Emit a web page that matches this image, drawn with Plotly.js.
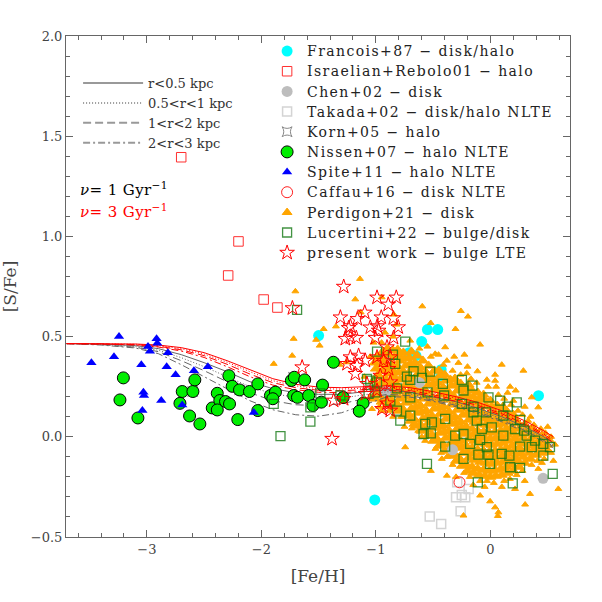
<!DOCTYPE html>
<html>
<head>
<meta charset="utf-8">
<script src="https://cdn.plot.ly/plotly-3.0.1.min.js"></script>
<style>
  html, body { margin: 0; padding: 0; background: #fff; }
  #myDiv { width: 602px; height: 602px; }
  .legendtext { font-size: 14px !important; letter-spacing: 1.4px; }
  .legendtext[data-unformatted*="kpc"] { font-size: 13px !important; letter-spacing: 0; }
  .annotation-text { letter-spacing: 0.4px; }
</style>
</head>
<body>
<div id="myDiv"></div>
<script>
// [Fe/H], [S/Fe] pairs
var francois = [[-1.50,0.505],[-0.55,0.535],[-0.46,0.535],[-0.60,0.475],[-0.71,0.42],[-0.65,0.405],
  [-0.43,0.335],[-0.43,0.305],[0.42,0.205],[-1.01,-0.315]];
var israelian = [[-2.70,1.395],[-2.20,0.975],[-2.29,0.805],[-1.98,0.685],[-1.86,0.645]];
var chen = [[-0.91,0.227],[-0.33,-0.065],[0.46,-0.207],[-0.62,0.27]];
var takada = [[-0.53,-0.398],[-0.43,-0.435],[-0.30,-0.302],[-0.22,-0.302],[-0.26,-0.372],
  [-0.29,-0.227],[-0.19,-0.26],[-0.25,-0.29]];
var korn = [[-2.19,0.234],[-1.72,0.297],[-2.60,0.226]];
var nissen = [[-3.205,0.294],[-3.235,0.184],[-3.078,0.094],[-2.691,0.226],[-2.598,0.226],[-2.581,0.284],
  [-2.711,0.167],[-2.627,0.104],[-2.537,0.064],[-2.429,0.144],[-2.385,0.217],[-2.363,0.181],[-2.313,0.176],
  [-2.278,0.164],[-2.385,0.134],[-2.284,0.305],[-2.255,0.252],[-2.191,0.234],[-2.104,0.226],[-2.031,0.264],
  [-2.206,0.086],[-2.031,0.131],[-1.921,0.206],[-1.877,0.223],[-1.90,0.19],[-1.738,0.281],[-1.712,0.297],
  [-1.622,0.284],[-1.718,0.206],[-1.685,0.197],[-1.587,0.206],[-1.550,0.156],[-1.476,0.173],[-1.466,0.258],
  [-1.371,0.372],[-1.286,0.196],[-1.112,0.168],[-1.145,0.128]];
var spite = [[-3.243,0.500],[-2.915,0.489],[-2.909,0.467],[-2.990,0.450],[-2.973,0.427],[-2.816,0.419],
  [-3.484,0.369],[-3.287,0.400],[-3.048,0.360],[-2.827,0.350],[-2.749,0.310],[-2.589,0.330],[-2.467,0.350],
  [-3.030,0.222],[-3.025,0.206],[-2.874,0.181],[-2.691,0.159],[-3.039,0.131],[-2.066,0.121]];
var caffau = [[-0.27,-0.227]];
var perdigonField = [[-1.139,0.788],[-1.703,0.726],[-1.180,0.686],[-0.595,0.651],[-0.258,0.628],[-0.196,0.600],
  [-1.349,0.551],[-0.521,0.568],[-0.305,0.538],[-0.949,0.696],[-1.133,0.621],[-0.843,0.610],[-1.718,0.489],
  [-1.731,0.405],[-1.456,0.538],[-1.491,0.455],[-1.316,0.360],[-1.258,0.372],[-1.892,0.364],[-0.482,0.414],
  [-0.395,0.447],[-1.522,0.484],[-1.034,0.139],[-0.090,0.460],[0.288,0.330],[0.099,0.360],[-0.113,0.327],
  [0.041,0.310],[-0.206,0.317],[-0.279,0.369],[-0.316,0.400],[-0.227,0.410],[-0.453,0.410],[-0.380,0.380],
  [-0.031,0.285],[0.041,0.280],[0.172,0.250],[0.221,0.231],[0.361,0.197],[0.418,0.147],[-0.744,-0.052],
  [-0.685,0.042],[-0.424,-0.110],[-0.380,-0.194],[-0.090,-0.293],[-0.003,-0.322],[0.041,-0.352],[0.070,-0.377],
  [0.065,-0.395],[-0.235,-0.393],[0.303,-0.338],[0.346,-0.285],[0.593,-0.260],[0.215,-0.260],[0.418,-0.160],
  [0.564,-0.039],[-0.52,-0.17],[0.15,0.22],[0.30,0.15],[0.35,0.10],[0.50,0.05],[0.45,-0.13],[0.55,-0.12],
  [0.30,-0.22],[0.10,-0.25],[-0.05,-0.25],[-0.15,-0.24],[-0.30,-0.20],[-0.60,0.0],[-0.75,0.05],
  [-0.85,0.10],[-0.95,0.13],[-1.05,0.20],[-1.10,0.30],[-1.05,0.40],[-0.95,0.47],[-0.85,0.50],[-0.70,0.48],
  [-0.55,0.45],[-0.20,0.35],[0.05,0.25],[0.20,0.18],[-0.92,0.52],[-0.82,0.56],[-1.02,0.47],
  [-0.62,0.44],[-0.52,0.40],[-0.41,0.36],[-0.33,0.33],[-0.26,0.31],[-0.17,0.29],[-0.12,0.27],[-0.02,0.25],
  [0.07,0.21],[0.12,0.19],[0.18,0.16],[0.24,0.13],[0.28,0.11],[0.33,0.08],[0.38,0.06],[0.44,0.04],[0.48,0.02],
  [0.53,0.0],[0.53,-0.08],[0.47,-0.11],[0.41,-0.12],[0.36,-0.14],[0.28,-0.17],[0.23,-0.19],[0.17,-0.21],
  [0.12,-0.22],[0.03,-0.23],[-0.03,-0.22],[-0.09,-0.22],[-0.18,-0.20],[-0.23,-0.18],[-0.33,-0.14],
  [-0.38,-0.10],[-0.43,-0.08],[-0.48,-0.06],[-0.57,-0.02],[-0.63,0.03],[-0.68,0.06],[-0.78,0.10],
  [-0.88,0.13],[-0.97,0.15]];
var perdigonCore = [
  [-1.01,.19],[-0.99,.22],[-1.00,.25],[-1.02,.28],[-0.98,.31],[-1.00,.34],[-1.01,.37],[-0.99,.40],
  [-0.95,.175],[-0.96,.205],[-0.94,.235],[-0.95,.27],[-0.97,.30],[-0.94,.33],[-0.95,.36],[-0.96,.39],[-0.94,.425],
  [-0.90,.16],[-0.91,.19],[-0.89,.22],[-0.90,.25],[-0.91,.285],[-0.89,.315],[-0.90,.345],[-0.92,.375],[-0.89,.41],[-0.90,.44],
  [-0.85,.145],[-0.86,.18],[-0.84,.21],[-0.85,.24],[-0.86,.27],[-0.84,.30],[-0.85,.33],[-0.86,.36],[-0.84,.395],[-0.85,.43],
  [-0.80,.13],[-0.81,.16],[-0.79,.19],[-0.80,.225],[-0.81,.255],[-0.79,.285],[-0.80,.32],[-0.81,.35],[-0.79,.38],[-0.80,.41],[-0.81,.435],
  [-0.75,.105],[-0.76,.135],[-0.74,.17],[-0.75,.20],[-0.76,.23],[-0.74,.26],[-0.75,.295],[-0.76,.325],[-0.74,.355],[-0.75,.39],[-0.76,.42],
  [-0.70,.08],[-0.71,.11],[-0.69,.14],[-0.70,.175],[-0.71,.205],[-0.69,.24],[-0.70,.27],[-0.71,.30],[-0.69,.335],[-0.70,.365],[-0.71,.395],[-0.69,.425],
  [-0.65,.055],[-0.66,.085],[-0.64,.12],[-0.65,.15],[-0.66,.18],[-0.64,.215],[-0.65,.245],[-0.66,.275],[-0.64,.31],[-0.65,.34],[-0.66,.37],[-0.64,.405],
  [-0.60,.03],[-0.61,.06],[-0.59,.09],[-0.60,.125],[-0.61,.155],[-0.59,.19],[-0.60,.22],[-0.61,.25],[-0.59,.285],[-0.60,.315],[-0.61,.345],[-0.59,.38],
  [-0.55,.005],[-0.56,.035],[-0.54,.07],[-0.55,.10],[-0.56,.13],[-0.54,.165],[-0.55,.195],[-0.56,.225],[-0.54,.26],[-0.55,.29],[-0.56,.32],[-0.54,.355],
  [-0.50,-.02],[-0.51,.01],[-0.49,.045],[-0.50,.075],[-0.51,.105],[-0.49,.14],[-0.50,.17],[-0.51,.20],[-0.49,.235],[-0.50,.265],[-0.51,.295],[-0.49,.33],
  [-0.45,-.045],[-0.46,-.015],[-0.44,.02],[-0.45,.05],[-0.46,.08],[-0.44,.115],[-0.45,.145],[-0.46,.175],[-0.44,.21],[-0.45,.24],[-0.46,.27],[-0.44,.305],[-0.45,.33],
  [-0.40,-.07],[-0.41,-.04],[-0.39,-.005],[-0.40,.025],[-0.41,.055],[-0.39,.09],[-0.40,.12],[-0.41,.15],[-0.39,.185],[-0.40,.215],[-0.41,.245],[-0.39,.28],[-0.40,.31],
  [-0.35,-.095],[-0.36,-.065],[-0.34,-.03],[-0.35,0],[-0.36,.03],[-0.34,.065],[-0.35,.095],[-0.36,.125],[-0.34,.16],[-0.35,.19],[-0.36,.22],[-0.34,.255],[-0.35,.285],
  [-0.30,-.12],[-0.31,-.09],[-0.29,-.055],[-0.30,-.025],[-0.31,.005],[-0.29,.04],[-0.30,.07],[-0.31,.10],[-0.29,.135],[-0.30,.165],[-0.31,.195],[-0.29,.23],[-0.30,.26],[-0.31,.29],
  [-0.25,-.145],[-0.26,-.115],[-0.24,-.08],[-0.25,-.05],[-0.26,-.02],[-0.24,.015],[-0.25,.045],[-0.26,.075],[-0.24,.11],[-0.25,.14],[-0.26,.17],[-0.24,.205],[-0.25,.235],[-0.26,.265],
  [-0.20,-.17],[-0.21,-.14],[-0.19,-.105],[-0.20,-.075],[-0.21,-.045],[-0.19,-.01],[-0.20,.02],[-0.21,.05],[-0.19,.085],[-0.20,.115],[-0.21,.145],[-0.19,.18],[-0.20,.21],[-0.21,.24],[-0.19,.26],
  [-0.15,-.18],[-0.16,-.15],[-0.14,-.115],[-0.15,-.085],[-0.16,-.055],[-0.14,-.02],[-0.15,.01],[-0.16,.04],[-0.14,.075],[-0.15,.105],[-0.16,.135],[-0.14,.17],[-0.15,.20],[-0.16,.23],
  [-0.10,-.19],[-0.11,-.16],[-0.09,-.125],[-0.10,-.095],[-0.11,-.065],[-0.09,-.03],[-0.10,0],[-0.11,.03],[-0.09,.065],[-0.10,.095],[-0.11,.125],[-0.09,.16],[-0.10,.19],[-0.11,.22],
  [-0.05,-.195],[-0.06,-.165],[-0.04,-.13],[-0.05,-.10],[-0.06,-.07],[-0.04,-.035],[-0.05,-.005],[-0.06,.025],[-0.04,.06],[-0.05,.09],[-0.06,.12],[-0.04,.155],[-0.05,.185],[-0.06,.21],
  [0.00,-.20],[-0.01,-.17],[0.01,-.135],[0.00,-.105],[-0.01,-.075],[0.01,-.04],[0.00,-.01],[-0.01,.02],[0.01,.055],[0.00,.085],[-0.01,.115],[0.01,.15],[0.00,.18],
  [0.05,-.195],[0.04,-.165],[0.06,-.13],[0.05,-.10],[0.04,-.07],[0.06,-.035],[0.05,-.005],[0.04,.025],[0.06,.06],[0.05,.09],[0.04,.12],[0.06,.155],
  [0.10,-.19],[0.09,-.16],[0.11,-.125],[0.10,-.095],[0.09,-.065],[0.11,-.03],[0.10,0],[0.09,.03],[0.11,.065],[0.10,.095],[0.09,.125],[0.11,.15],
  [0.15,-.18],[0.14,-.15],[0.16,-.115],[0.15,-.085],[0.14,-.055],[0.16,-.02],[0.15,.01],[0.14,.04],[0.16,.075],[0.15,.105],[0.14,.13],
  [0.20,-.17],[0.19,-.14],[0.21,-.105],[0.20,-.075],[0.19,-.045],[0.21,-.01],[0.20,.02],[0.19,.05],[0.21,.085],[0.20,.11],
  [0.25,-.15],[0.24,-.12],[0.26,-.085],[0.25,-.055],[0.24,-.025],[0.26,.01],[0.25,.04],[0.24,.07],
  [0.30,-.13],[0.29,-.10],[0.31,-.065],[0.30,-.035],[0.29,-.005],[0.31,.03],[0.30,.06],
  [0.35,-.11],[0.34,-.08],[0.36,-.045],[0.35,-.015],[0.34,.015],[0.36,.04],
  [0.40,-.09],[0.39,-.06],[0.41,-.03],[0.40,0],[0.39,.025],
  [0.45,-.08],[0.44,-.05],[0.46,-.02],[0.45,.005],
  [0.50,-.07],[0.49,-.04],[0.51,-.015]];
var lucertini = [[-1.688,0.633],[-0.744,0.475],[-0.990,0.425],[-0.851,0.410],[-0.831,0.364],[-0.729,0.300],
  [-0.671,0.327],[-0.700,0.284],[-0.598,0.294],[-0.526,0.325],[-0.415,0.264],[-0.249,0.284],[-0.157,0.255],
  [-0.235,0.231],[-0.404,0.206],[-0.549,0.222],[-0.700,0.197],[-0.874,0.181],[-0.990,0.272],[-0.816,0.242],
  [-1.005,0.222],[-0.816,0.131],[-0.787,0.081],[-0.700,0.106],[-0.511,0.072],[-0.569,0.064],[-0.520,0.017],
  [-0.395,0.089],[-0.249,0.164],[-0.148,0.151],[-0.148,0.122],[-0.017,0.197],[-0.037,0.122],[-0.119,0.081],
  [0.085,0.181],[0.152,0.151],[0.230,0.172],[0.113,0.106],[0.259,0.084],[0.012,0.047],[-0.075,0.039],
  [-0.308,0.006],[-0.235,0.014],[-0.177,-0.035],[-0.395,-0.049],[-0.090,-0.015],[-0.031,-0.052],[0.113,0.006],
  [0.215,0.039],[0.294,0.031],[0.317,0.006],[0.390,-0.019],[0.462,-0.035],[0.520,-0.052],[0.361,-0.052],
  [0.259,-0.049],[0.166,-0.094],[0.099,-0.085],[-0.017,-0.089],[-0.105,-0.089],[-0.003,-0.135],[0.172,-0.152],
  [0.259,-0.155],[0.462,-0.094],[-0.554,-0.135],[-0.235,-0.110],[0.195,-0.232],[-0.110,-0.227],[0.544,-0.185],
  [-1.049,0.280],[-0.584,0.014],[-1.078,0.289],[-1.064,0.214],[-1.310,0.206],[-1.485,0.217],[-1.892,0.164],
  [-1.572,0.076],[-1.833,0.003],[-1.572,0.147]];
var present = [[-1.281,0.749],[-1.729,0.642],[-0.990,0.695],[-0.822,0.695],[-0.892,0.660],[-1.310,0.596],
  [-1.162,0.588],[-1.097,0.620],[-0.953,0.596],[-0.848,0.592],[-1.223,0.552],[-0.988,0.552],[-0.805,0.547],
  [-1.049,0.546],[-1.238,0.543],[-0.976,0.530],[-1.223,0.497],[-1.267,0.489],[-1.171,0.494],[-1.005,0.494],
  [-0.846,0.494],[-1.151,0.405],[-1.223,0.397],[-1.092,0.380],[-1.165,0.355],[-1.644,0.347],[-1.180,0.314],
  [-0.933,0.380],[-0.889,0.339],[-0.962,0.305],[-1.078,0.264],[-0.874,0.272],[-1.092,0.214],[-0.990,0.231],
  [-0.903,0.167],[-1.383,-0.010],[-0.947,0.139],[-1.252,0.364],[-0.990,0.397],[-0.903,0.447],[-1.369,0.181],
  [-1.282,0.189],[-0.874,0.397],[-0.874,0.131]];

// chemical evolution models
var modelFeH = [-3.7,-3.4,-3.1,-2.9,-2.7,-2.5,-2.3,-2.1,-1.9,-1.7,-1.5,-1.3,-1.1,-0.9,-0.7,-0.5,-0.3,-0.1,0.1,0.3,0.45,0.55];
var nu3r05 = [0.465,0.465,0.463,0.458,0.445,0.42,0.38,0.335,0.29,0.262,0.248,0.245,0.25,0.255,0.245,0.225,0.20,0.17,0.13,0.08,0.035,0.0];
var nu3r1  = [0.465,0.465,0.462,0.455,0.44,0.413,0.372,0.325,0.28,0.254,0.24,0.238,0.243,0.248,0.238,0.218,0.193,0.163,0.122,0.072,0.027,-0.01];
var nu3r2  = [0.465,0.464,0.46,0.452,0.434,0.405,0.362,0.313,0.27,0.245,0.232,0.23,0.235,0.24,0.23,0.21,0.185,0.155,0.115,0.064,0.02,-0.02];
var nu3r3  = [0.465,0.464,0.458,0.448,0.428,0.396,0.35,0.30,0.258,0.235,0.222,0.221,0.226,0.232,0.222,0.202,0.177,0.147,0.107,0.057,0.012,-0.03];
var nu1r05 = [0.465,0.463,0.455,0.44,0.41,0.37,0.325,0.275,0.24,0.22,0.212,0.212,0.225,0.235,0.222,0.2,0.175,0.14,0.1,0.05,0.005,-0.03];
var nu1r1  = [0.465,0.462,0.45,0.432,0.395,0.35,0.30,0.25,0.215,0.197,0.19,0.193,0.21,0.225,0.213,0.19,0.165,0.13,0.09,0.04,-0.005,-0.04];
var nu1r2  = [0.465,0.46,0.447,0.425,0.38,0.33,0.275,0.22,0.18,0.16,0.155,0.165,0.19,0.212,0.205,0.183,0.157,0.122,0.082,0.032,-0.012,-0.048];
var nu1r3  = [0.465,0.458,0.443,0.415,0.36,0.30,0.24,0.18,0.135,0.11,0.103,0.12,0.16,0.2,0.198,0.177,0.15,0.115,0.075,0.025,-0.02,-0.055];

var radiusLabels = ['r<0.5 kpc', '0.5<r<1 kpc', '1<r<2 kpc', '2<r<3 kpc'];
var dashes = ['solid', '1px,2px', '8px,4px', '7px,3px,2px,3px'];

function col(list, k) { return list.map(function(p) { return p[k]; }); }
function pts(list, name, rank, marker) {
  return {x: col(list, 0), y: col(list, 1), mode: 'markers', name: name, legendrank: rank, marker: marker};
}

var perdigon = perdigonField.concat(perdigonCore);
var perdigonSize = perdigonField.map(function() { return 6; })
  .concat(perdigonCore.map(function() { return 9.5; }));

var data = [];
data.push(pts(takada, 'Takada+02 \u2212 disk/halo NLTE', 4,
  {symbol: 'square-open', size: 9, color: '#d4d4d4', line: {width: 1.5}}));
data.push(pts(korn, 'Korn+05 \u2212 halo', 5,
  {symbol: 'star-square-open', size: 9, color: '#888', line: {width: 1}}));
data.push(pts(israelian, 'Israelian+Rebolo01 \u2212 halo', 2,
  {symbol: 'square-open', size: 9.5, color: '#ff3030', line: {width: 1}}));
data.push(pts(francois, 'Francois+87 \u2212 disk/halo', 1,
  {symbol: 'circle', size: 11, color: '#00ffff'}));
data.push(pts(perdigon, 'Perdigon+21 \u2212 disk', 9,
  {symbol: 'triangle-up', size: perdigonSize, opacity: 1, color: '#ffa500', line: {color: '#ffa500', width: 1}}));
data.push(pts(chen, 'Chen+02 \u2212 disk', 3,
  {symbol: 'circle', size: 11, color: '#bdbdbd'}));

// model curves sit above the disk data but under the halo samples
[nu1r05, nu1r1, nu1r2, nu1r3].forEach(function(y, i) {
  data.push({x: modelFeH, y: y, mode: 'lines', showlegend: false, hoverinfo: 'skip',
    line: {color: '#666', width: 1, dash: dashes[i]}});
});
[nu3r05, nu3r1, nu3r2, nu3r3].forEach(function(y, i) {
  data.push({x: modelFeH, y: y, mode: 'lines', showlegend: false, hoverinfo: 'skip',
    line: {color: 'red', width: 1, dash: dashes[i]}});
});
radiusLabels.forEach(function(name, i) {
  data.push({x: [null], y: [null], mode: 'lines', name: name, legend: 'legend2',
    line: {color: '#999', width: 2, dash: dashes[i]}});
});

data.push(pts(nissen, 'Nissen+07 \u2212 halo NLTE', 6,
  {symbol: 'circle', size: 12, color: '#00ee00', line: {color: '#000', width: 1}}));
data.push(pts(spite, 'Spite+11 \u2212 halo NLTE', 7,
  {symbol: 'triangle-up', size: 9, color: '#0000ff'}));
data.push(pts(caffau, 'Caffau+16 \u2212 disk NLTE', 8,
  {symbol: 'circle-open', size: 11, color: '#ff2020', line: {width: 1}}));
data.push(pts(lucertini, 'Lucertini+22 \u2212 bulge/disk', 10,
  {symbol: 'square-open', size: 9, color: 'rgba(20,120,20,0.8)', line: {width: 1.3}}));
data.push(pts(present, 'present work \u2212 bulge LTE', 11,
  {symbol: 'star-open', size: 11, color: '#ff0000', line: {width: 1}}));

var axisStyle = {
  showgrid: false, zeroline: false, showline: true, linecolor: '#666', linewidth: 1,
  mirror: 'allticks', ticks: 'inside', ticklen: 7, tickwidth: 1, tickcolor: '#666',
  tickfont: {size: 13, color: '#444'}
};

var layout = {
  width: 602, height: 602,
  margin: {l: 66, r: 32, t: 36, b: 65},
  paper_bgcolor: '#fff', plot_bgcolor: '#fff',
  font: {family: 'DejaVu Serif, serif', size: 13, color: '#333'},
  xaxis: Object.assign({}, axisStyle, {
    range: [-3.706, 0.695], dtick: 1, tick0: 0,
    minor: {dtick: 0.2, tick0: 0, ticklen: 4, tickcolor: '#666', ticks: 'inside'},
    title: {text: '[Fe/H]', font: {size: 17, color: '#444'}, standoff: 14}
  }),
  yaxis: Object.assign({}, axisStyle, {
    range: [-0.5, 2.0], dtick: 0.5, tick0: 0, tickformat: '.1f',
    minor: {dtick: 0.1, tick0: 0, ticklen: 4, tickcolor: '#666', ticks: 'inside'},
    title: {text: '[S/Fe]', font: {size: 17, color: '#444'}, standoff: 12}
  }),
  legend: {x: 0.399, xanchor: 'left', y: 1.0, yanchor: 'top', bgcolor: 'rgba(0,0,0,0)',
    font: {size: 13.2, color: '#222'}, tracegroupgap: 0},
  legend2: {x: 0.024, xanchor: 'left', y: 0.936, yanchor: 'top', bgcolor: 'rgba(0,0,0,0)',
    font: {size: 13, color: '#333'}, itemwidth: 60, tracegroupgap: 0},
  annotations: [
    {xref: 'paper', yref: 'paper', x: 0.024, y: 0.695, xanchor: 'left', yanchor: 'middle', showarrow: false,
      text: '<i>\u03bd</i>= 1 Gyr<sup>\u22121</sup>', font: {size: 15, color: '#000'}},
    {xref: 'paper', yref: 'paper', x: 0.024, y: 0.651, xanchor: 'left', yanchor: 'middle', showarrow: false,
      text: '<i>\u03bd</i>= 3 Gyr<sup>\u22121</sup>', font: {size: 15, color: '#ff0000'}}
  ]
};

Plotly.newPlot('myDiv', data, layout, {staticPlot: true, displayModeBar: false});
</script>
</body>
</html>
